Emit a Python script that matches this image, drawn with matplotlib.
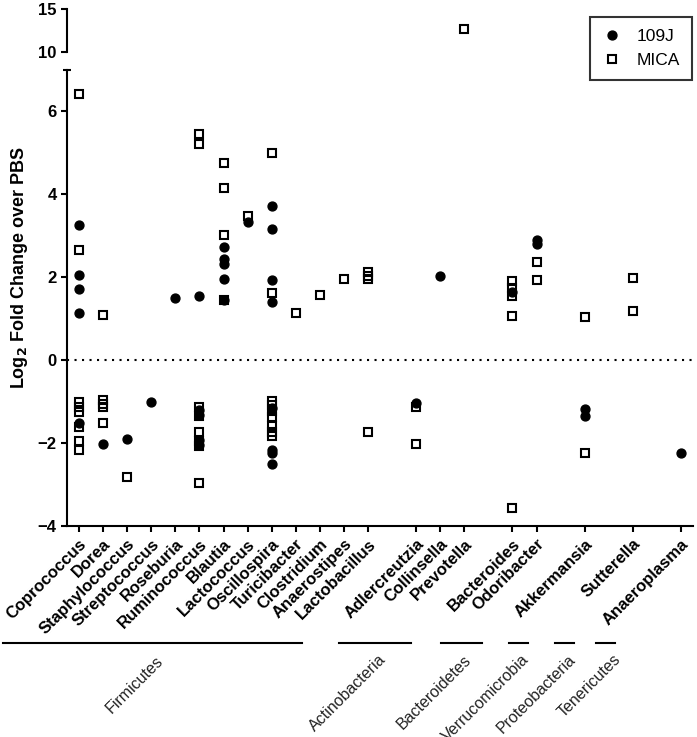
import matplotlib
matplotlib.use("Agg")
import matplotlib.pyplot as plt
import matplotlib.transforms as mtransforms

plt.rcParams['font.family'] = ['Liberation Sans', 'DejaVu Sans']

# Genera (blank entries are empty slots on the x axis)
genera = ["Coprococcus", "Dorea", "Staphylococcus", "Streptococcus", "Roseburia",
          "Ruminococcus", "Blautia", "Lactococcus", "Oscillospira", "Turicibacter",
          "Clostridium", "Anaerostipes", "Lactobacillus", "",
          "Adlercreutzia", "Collinsella", "Prevotella", "",
          "Bacteroides", "Odoribacter", "", "Akkermansia", "", "Sutterella", "",
          "Anaeroplasma"]

# Log2 fold change values, one list per genus slot
vals_109j = [
    [3.27, 2.05, 1.71, 1.15, -1.52],
    [-2.02],
    [-1.90],
    [-1.01],
    [1.50],
    [1.55, -1.20, -1.33, -1.93, -2.05],
    [2.72, 2.44, 2.31, 1.97, 1.45],
    [3.33],
    [3.72, 3.16, 1.94, 1.41, -1.15, -2.16, -2.24, -2.51],
    [],
    [],
    [],
    [],
    [],
    [-1.03],
    [2.04],
    [],
    [],
    [1.65],
    [2.89, 2.81],
    [],
    [-1.17, -1.35],
    [],
    [],
    [],
    [-2.25],
]

vals_mica = [
    [6.42, 2.65, -1.00, -1.12, -1.25, -1.62, -1.94, -2.17],
    [1.08, -0.97, -1.05, -1.14, -1.51],
    [-2.83],
    [],
    [],
    [5.46, 5.22, -1.13, -1.35, -1.73, -1.96, -2.08, -2.97],
    [4.75, 4.16, 3.02, 1.45],
    [3.47],
    [5.00, 1.61, -0.98, -1.08, -1.22, -1.38, -1.59, -1.74, -1.84],
    [1.15],
    [1.58],
    [1.95],
    [2.13, 2.04, 1.96, -1.73],
    [],
    [-1.14, -2.01],
    [],
    [12.65],
    [],
    [1.90, 1.73, 1.54, 1.07, -3.57],
    [2.38, 1.94],
    [],
    [1.04, -2.25],
    [],
    [1.98, 1.18],
    [],
    [],
]

# Phylum groups: label, x span (in category units)
phyla = ["Firmicutes", "Actinobacteria", "Bacteroidetes", "Verrucomicrobia",
         "Proteobacteria", "Tenericutes"]
phyla_span = [(-3.14, 9.26), (10.79, 13.8), (15.04, 16.74), (17.85, 18.64),
              (19.75, 20.54), (21.49, 22.27)]
phyla_text_xy = [(156, 653), (378, 652), (463, 652), (521, 652), (568, 652), (613, 652)]

W, H = 697, 737
fig = plt.figure(figsize=(W / 100, H / 100), dpi=100)

ax = fig.add_axes([67 / W, 1 - 526 / H, 626 / W, 456 / H])
ax_top = fig.add_axes([67 / W, 1 - 52 / H, 626 / W, 43 / H], sharex=ax)

for a in (ax, ax_top):
    for i in range(len(genera)):
        y1 = vals_109j[i]
        ym = vals_mica[i]
        a.plot([i] * len(ym), ym, 's', ms=6.3, mfc='none', mec='black', mew=1.5,
               linestyle='none', zorder=3)
        a.plot([i] * len(y1), y1, 'o', ms=6.4, color='black', mec='black',
               linestyle='none', zorder=4)

# lower axis
ax.set_ylim(-4, 7)
ax.set_xlim(-0.5, 25.5)
ax.set_yticks([-4, -2, 0, 2, 4, 6])
ax.axhline(0, color='black', lw=1.5, linestyle=(0, (1, 2.6)), zorder=1)
for s in ['top', 'right']:
    ax.spines[s].set_visible(False)
for s in ['left', 'bottom']:
    ax.spines[s].set_linewidth(1.5)
tick_pos = [i for i, g in enumerate(genera) if g]
ax.set_xticks(tick_pos)
ax.set_xticklabels([genera[i] for i in tick_pos], rotation=45, ha='right',
                   rotation_mode='anchor', fontsize=12, fontweight='bold')
ax.tick_params(axis='both', width=1.5, length=4, direction='out')
ax.tick_params(axis='y', labelsize=12)
for lab in ax.get_yticklabels():
    lab.set_fontweight('bold')
# cap at the top of the lower axis (break)
ax.plot([-0.65, -0.35], [7, 7], color='black', lw=1.5, clip_on=False,
        solid_capstyle='butt')

# upper axis
ax_top.set_ylim(10, 15)
ax_top.set_yticks([10, 15])
for s in ['top', 'right', 'bottom']:
    ax_top.spines[s].set_visible(False)
ax_top.spines['left'].set_linewidth(1.5)
ax_top.tick_params(axis='x', which='both', bottom=False, labelbottom=False)
ax_top.tick_params(axis='y', width=1.5, length=4, labelsize=12)
for lab in ax_top.get_yticklabels():
    lab.set_fontweight('bold')

# y label across both axes
fig.text(20 / W, 1 - 268 / H, "Log$_\\mathbf{2}$ Fold Change over PBS", rotation=90,
         ha='center', va='center', fontsize=13, fontweight='bold')

# phylum lines and labels
blend = mtransforms.blended_transform_factory(ax.transData, fig.transFigure)
for name, (x0, x1), (tx, ty) in zip(phyla, phyla_span, phyla_text_xy):
    ax.plot([x0, x1], [1 - 643 / H, 1 - 643 / H], color='black', lw=1.5,
            transform=blend, clip_on=False)
    fig.text(tx / W, 1 - ty / H, name, rotation=45, ha='right', va='top',
             rotation_mode='anchor', fontsize=11.5, color='#222222')

# legend
h1, = ax.plot([], [], 'o', ms=6.4, color='black', label='109J')
h2, = ax.plot([], [], 's', ms=6.3, mfc='none', mec='black', mew=1.5, label='MICA')
leg = fig.legend(handles=[h1, h2], loc='upper right',
                 bbox_to_anchor=(692 / W, 1 - 17 / H), borderaxespad=0,
                 fontsize=12.5, frameon=True, fancybox=False, edgecolor='black',
                 handletextpad=0.8, borderpad=0.7, handlelength=1.2)
leg.get_frame().set_linewidth(1.5)

plt.savefig("out.png", dpi=100)
